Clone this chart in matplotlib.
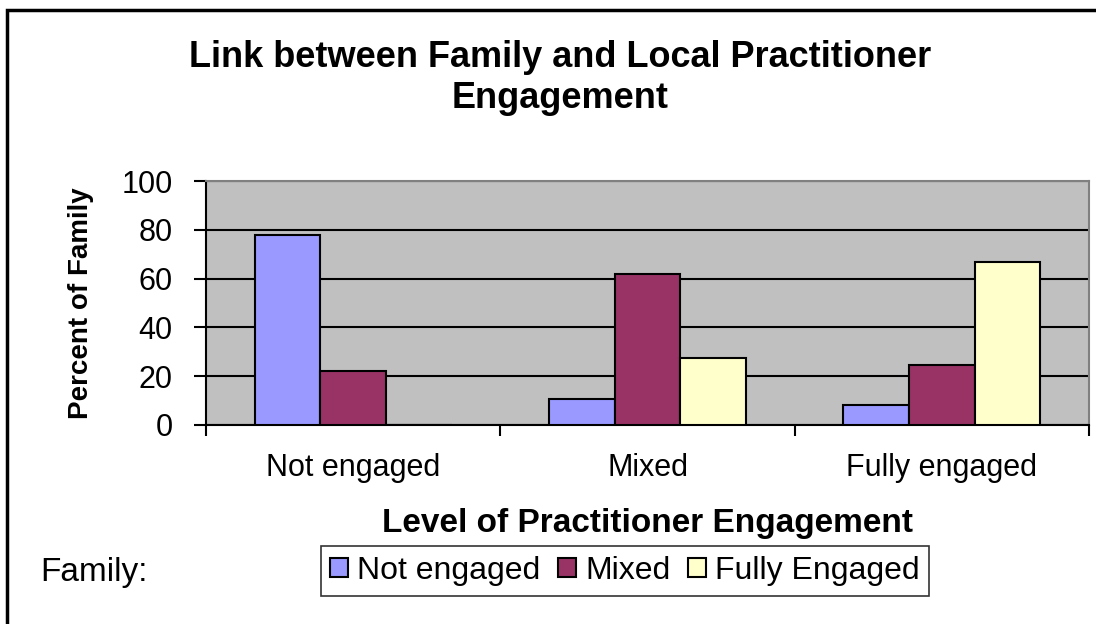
import matplotlib
matplotlib.use("Agg")
import matplotlib.pyplot as plt
import numpy as np
from matplotlib.patches import Rectangle

plt.rcParams['font.family'] = ['Liberation Sans', 'DejaVu Sans']

# data (percent of family)
practitioner_levels = ['Not engaged', 'Mixed', 'Fully engaged']
family_groups = ['Not engaged', 'Mixed', 'Fully Engaged']
fam_not_engaged = [78, 10.5, 8]
fam_mixed = [22, 62, 24.5]
fam_fully = [0, 27.5, 67]
colors = ['#9999FF', '#993366', '#FFFFCC']

fig = plt.figure(figsize=(10.96, 6.24), dpi=100)
ax = fig.add_axes([206/1096, 1 - 425/624, 883/1096, 244/624])
ax.set_facecolor('#C0C0C0')

x = np.arange(len(practitioner_levels))
w = 0.223
series = [fam_not_engaged, fam_mixed, fam_fully]
for i, vals in enumerate(series):
    ax.bar(x + (i - 1) * w, vals, width=w, color=colors[i], edgecolor='black',
           linewidth=1.5, label=family_groups[i], zorder=3)

ax.set_xlim(-0.5, 2.5)
ax.set_ylim(0, 100)
ax.set_yticks(range(0, 101, 20))
ax.yaxis.grid(True, color='black', linewidth=1.5, zorder=1)
ax.set_axisbelow(True)

ax.set_xticks(x)
ax.set_xticklabels(practitioner_levels, fontsize=22)
ax.set_xticks([-0.5, 0.5, 1.5, 2.5], minor=True)
ax.tick_params(axis='x', which='major', length=0, pad=20)
ax.tick_params(axis='x', which='minor', length=8, width=1.5, direction='out')
ax.tick_params(axis='y', length=9, width=1.5, labelsize=22, pad=15)

for s in ['left', 'bottom']:
    ax.spines[s].set_color('black')
    ax.spines[s].set_linewidth(1.5)
for s in ['top', 'right']:
    ax.spines[s].set_color('#808080')
    ax.spines[s].set_linewidth(1.5)

ax.set_ylabel('Percent of Family', fontsize=20, fontweight='bold', labelpad=20)
ax.set_xlabel('Level of Practitioner Engagement', fontsize=24, fontweight='bold', labelpad=18)

fig.text(560/1096, 1 - 78/624, 'Link between Family and Local Practitioner\nEngagement',
         ha='center', va='center', fontsize=26, fontweight='bold', linespacing=1.2)

leg = fig.legend(loc='center', bbox_to_anchor=(625/1096, 1 - 571/624), ncol=3,
                 fontsize=23, frameon=True, fancybox=False, edgecolor='black',
                 handlelength=0.55, handleheight=0.55, handletextpad=0.3,
                 columnspacing=0.55, borderpad=0.3)
leg.get_frame().set_linewidth(1.2)
fig.text(40/1096, 1 - 573/624, 'Family:', ha='left', va='center', fontsize=24)

# outer chart border (only top/left visible in the crop)
fig.patches.append(Rectangle((7/1096, -0.1), 1.2, 1 - 10/624 + 0.1, transform=fig.transFigure,
                             fill=False, edgecolor='black', linewidth=2.5))

fig.savefig('out.png', dpi=100)
